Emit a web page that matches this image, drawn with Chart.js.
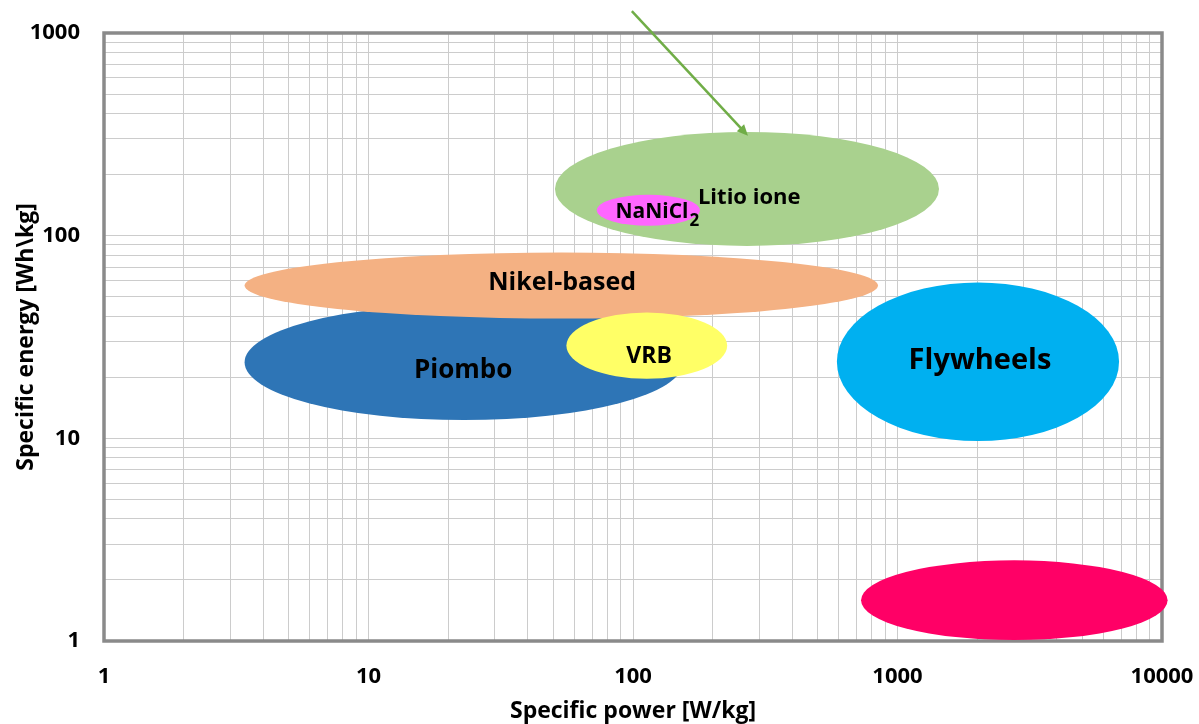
<!DOCTYPE html>
<html><head><meta charset="utf-8">
<script src="https://cdn.jsdelivr.net/npm/chart.js@4/dist/chart.umd.min.js"></script>
<style>html,body{margin:0;padding:0;background:#fff;}canvas{display:block;}</style>
</head><body>
<canvas id="c" width="1199" height="724"></canvas>
<script>
// ---- data ----
const technologies = ['Litio ione', 'NaNiCl', 'Piombo', 'Nikel-based', 'VRB', 'Flywheels', ''];
const subscripts   = ['', '2', '', '', '', '', ''];
const powerMin  = [50.7, 73, 3.4, 3.4, 56, 590, 728];     // W/kg
const powerMax  = [1435, 179, 155, 844, 227, 6880, 10500];
const energyMin = [89, 112, 12.3, 39, 19.7, 9.7, 1.01];   // Wh/kg
const energyMax = [325, 159, 45.7, 82.5, 41.8, 58.7, 2.5];
const labelPower  = [275, 118, 22.8, 54, 115, 2050, null];
const labelEnergy = [154, 131, 21.6, 58.7, 25.3, 24.2, null];
const arrowFrom = [99, 1283];
const arrowTo   = [272, 311];
const xTickValues = [1, 10, 100, 1000, 10000];
const xTickLabels = ['1', '10', '100', '1000', '10000'];
const yTickValues = [1, 10, 100, 1000];
const yTickLabels = ['1', '10', '100', '1000'];

// ---- styles ----
const fillColors = ['#a9d18e', '#ff66ff', '#2e75b6', '#f4b183', '#ffff66', '#00b0f0', '#ff0066'];
const labelSizes = [22, 21, 26, 25, 23, 29, 0];
const FONT = '"Open Sans", "Liberation Sans", sans-serif';

function logTicks(min, max) {
  const t = [];
  for (let d = min; d < max; d *= 10) for (let m = 1; m < 10; m++) t.push({value: m * d});
  t.push({value: max});
  return t;
}

const ellipsePlugin = {
  id: 'ellipses',
  beforeDatasetsDraw(chart) {
    const {ctx, chartArea: a, scales: {x, y}} = chart;
    ctx.save();
    // plot frame
    ctx.strokeStyle = '#8a8a8a';
    ctx.lineWidth = 3.5;
    ctx.strokeRect(a.left, a.top, a.right - a.left, a.bottom - a.top);
    // ellipses
    technologies.forEach((t, i) => {
      const x0 = x.getPixelForValue(powerMin[i]), x1 = x.getPixelForValue(powerMax[i]);
      const y0 = y.getPixelForValue(energyMax[i]), y1 = y.getPixelForValue(energyMin[i]);
      ctx.beginPath();
      ctx.ellipse((x0 + x1) / 2, (y0 + y1) / 2, (x1 - x0) / 2, (y1 - y0) / 2, 0, 0, Math.PI * 2);
      ctx.fillStyle = fillColors[i];
      ctx.fill();
    });
    // labels
    ctx.fillStyle = '#000';
    ctx.textBaseline = 'middle';
    technologies.forEach((t, i) => {
      if (!t) return;
      const px = x.getPixelForValue(labelPower[i]);
      const py = y.getPixelForValue(labelEnergy[i]);
      ctx.font = 'bold ' + labelSizes[i] + 'px ' + FONT;
      ctx.textAlign = 'center';
      ctx.fillText(t, px, py);
      if (subscripts[i]) {
        const w = ctx.measureText(t).width;
        ctx.font = 'bold ' + Math.round(labelSizes[i] * 0.82) + 'px ' + FONT;
        ctx.textAlign = 'left';
        ctx.fillText(subscripts[i], px + w / 2 + 1, py + labelSizes[i] * 0.42);
      }
    });
    // arrow
    const ax0 = x.getPixelForValue(arrowFrom[0]), ay0 = y.getPixelForValue(arrowFrom[1]);
    const ax1 = x.getPixelForValue(arrowTo[0]), ay1 = y.getPixelForValue(arrowTo[1]);
    const ang = Math.atan2(ay1 - ay0, ax1 - ax0);
    ctx.strokeStyle = '#70ad47';
    ctx.fillStyle = '#70ad47';
    ctx.lineWidth = 2.5;
    ctx.beginPath();
    ctx.moveTo(ax0, ay0);
    ctx.lineTo(ax1 - 8 * Math.cos(ang), ay1 - 8 * Math.sin(ang));
    ctx.stroke();
    ctx.beginPath();
    ctx.moveTo(ax1, ay1);
    ctx.lineTo(ax1 - 11 * Math.cos(ang) + 5 * Math.sin(ang), ay1 - 11 * Math.sin(ang) - 5 * Math.cos(ang));
    ctx.lineTo(ax1 - 11 * Math.cos(ang) - 5 * Math.sin(ang), ay1 - 11 * Math.sin(ang) + 5 * Math.cos(ang));
    ctx.closePath();
    ctx.fill();
    ctx.restore();
  }
};

new Chart(document.getElementById('c'), {
  type: 'scatter',
  data: {
    datasets: [{
      data: technologies.map((t, i) => ({x: Math.sqrt(powerMin[i] * powerMax[i]), y: Math.sqrt(energyMin[i] * energyMax[i])})),
      pointRadius: 0, pointHoverRadius: 0
    }]
  },
  options: {
    responsive: false,
    animation: false,
    devicePixelRatio: 1,
    layout: {padding: {top: 33, right: 37, left: 0, bottom: 0}},
    plugins: {legend: {display: false}, tooltip: {enabled: false}},
    events: [],
    scales: {
      x: {
        type: 'logarithmic', min: 1, max: 10000,
        afterBuildTicks: s => { s.ticks = logTicks(1, 10000); },
        afterFit: s => { s.height = 83; s.paddingLeft = 0; s.paddingRight = 0; },
        grid: {color: '#cccccc', lineWidth: 1, drawTicks: false},
        border: {display: false},
        ticks: {
          autoSkip: false, maxRotation: 0, padding: 23, color: '#000',
          font: {family: FONT, size: 22, weight: 'bold'},
          callback: v => { const k = xTickValues.indexOf(v); return k >= 0 ? xTickLabels[k] : ''; }
        },
        title: {display: true, text: 'Specific power [W/kg]', color: '#000',
          font: {family: FONT, size: 23, weight: 'bold'}, padding: {top: 0, bottom: -1}}
      },
      y: {
        type: 'logarithmic', min: 1, max: 1000,
        afterBuildTicks: s => { s.ticks = logTicks(1, 1000); },
        afterFit: s => { s.width = 104; s.paddingTop = 0; s.paddingBottom = 0; },
        grid: {color: '#cccccc', lineWidth: 1, drawTicks: false},
        border: {display: false},
        ticks: {
          autoSkip: false, padding: 24, color: '#000',
          font: {family: FONT, size: 22, weight: 'bold'},
          callback: v => { const k = yTickValues.indexOf(v); return k >= 0 ? yTickLabels[k] : ''; }
        },
        title: {display: true, text: 'Specific energy [Wh\\kg]', color: '#000',
          font: {family: FONT, size: 23, weight: 'bold'}, padding: {top: 13, bottom: 0}}
      }
    }
  },
  plugins: [ellipsePlugin]
});
</script>
</body></html>
